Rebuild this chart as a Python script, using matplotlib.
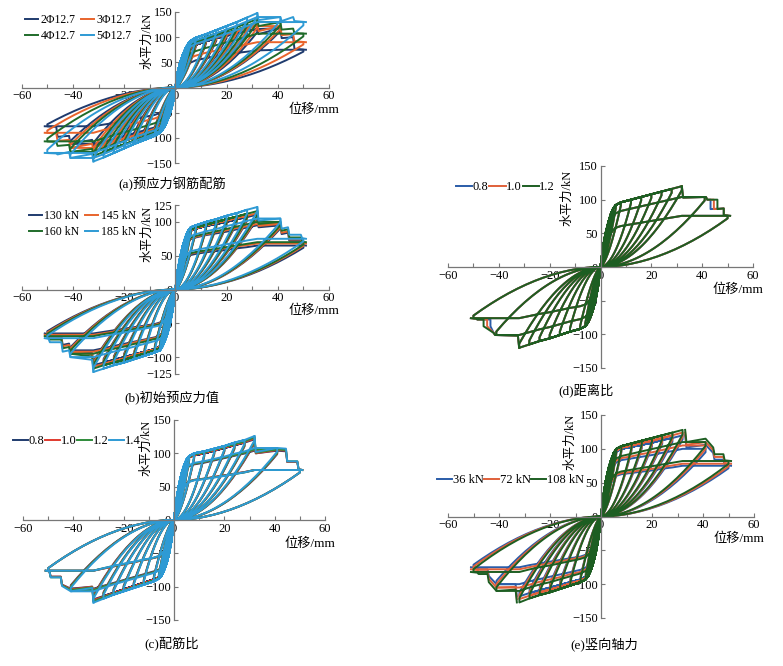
import numpy as np
import matplotlib.pyplot as plt
from matplotlib.lines import Line2D

plt.rcParams['font.family'] = ['Liberation Serif', 'Noto Sans CJK SC']

W, H = 783, 666

# loop amplitudes (mm), shared by all panels
amps = [1, 2, 3, 4, 5, 6, 8, 12, 16, 20, 24, 28, 32, 41, 50]

# (a) prestressing tendons
a_labels = ['2Φ12.7', '3Φ12.7', '4Φ12.7', '5Φ12.7']
a_pos = [
    [25, 42, 55, 65, 72, 78, 85, 92, 98, 103, 108, 112, 116, 118, 75],
    [27, 45, 58, 68, 76, 82, 88, 96, 102, 108, 114, 119, 125, 122, 90],
    [29, 48, 62, 72, 80, 86, 92, 100, 107, 114, 121, 128, 136, 130, 107],
    [32, 52, 66, 78, 87, 93, 99, 106, 114, 122, 130, 139, 148, 140, 130],
]
a_neg = [
    [-25, -40, -52, -62, -70, -76, -82, -88, -94, -100, -106, -111, -116, -112, -77],
    [-27, -44, -56, -66, -74, -80, -86, -93, -100, -106, -112, -118, -126, -120, -90],
    [-29, -47, -60, -70, -78, -84, -90, -98, -106, -113, -120, -128, -136, -128, -107],
    [-32, -50, -64, -76, -84, -90, -96, -104, -112, -121, -130, -139, -147, -140, -130],
]
a_tail_x = [[32, 32.5, 41, 41.5, 46, 46.5, 51]] * 4
a_tail_pos = [
    [116, 106, 118, 98, 100, 77, 75],
    [125, 112, 122, 104, 106, 92, 90],
    [136, 122, 130, 115, 117, 108, 107],
    [148, 134, 140, 132, 140, 132, 130],
]
a_tail_neg = [
    [-116, -104, -112, -96, -98, -78, -77],
    [-126, -112, -120, -104, -106, -91, -90],
    [-136, -122, -128, -114, -116, -108, -107],
    [-147, -132, -140, -128, -133, -131, -130],
]
a_yticks = [-150, -100, -50, 0, 50, 100, 150]

# (b) initial prestress
b_labels = ['130 kN', '145 kN', '160 kN', '185 kN']
b_pos = [
    [28, 47, 62, 73, 82, 87, 90, 94, 97, 100, 104, 107, 111, 95, 65],
    [28, 48, 63, 74, 83, 88, 91, 95, 99, 102, 106, 109, 113, 97, 68],
    [29, 49, 64, 75, 84, 89, 92, 96, 100, 104, 108, 112, 116, 100, 70],
    [30, 50, 66, 78, 87, 92, 95, 100, 104, 109, 113, 118, 122, 105, 75],
]
b_neg = [
    [-27, -46, -60, -71, -79, -84, -88, -92, -96, -100, -104, -108, -112, -90, -65],
    [-27, -47, -61, -72, -80, -85, -89, -93, -97, -102, -106, -110, -114, -92, -67],
    [-28, -48, -62, -73, -81, -87, -90, -95, -99, -104, -108, -112, -117, -95, -69],
    [-29, -49, -64, -75, -84, -90, -93, -98, -103, -108, -112, -117, -122, -100, -72],
]
b_tail_x = [[32, 32.5, 41, 41.5, 44, 44.5, 49, 49.5, 51]] * 4
b_tail_pos = [
    [111, 92, 95, 82, 84, 72, 72, 66, 65],
    [113, 94, 97, 84, 86, 74, 74, 69, 68],
    [116, 97, 100, 87, 89, 77, 77, 71, 70],
    [122, 102, 105, 90, 92, 81, 81, 76, 75],
]
b_tail_neg = [
    [-112, -94, -90, -80, -82, -70, -70, -66, -65],
    [-114, -96, -92, -82, -84, -72, -72, -68, -67],
    [-117, -99, -95, -85, -87, -74, -74, -70, -69],
    [-122, -104, -100, -90, -92, -78, -78, -73, -72],
]
b_yticks = [-125, -100, -50, 0, 50, 100, 125]

# (c) reinforcement ratio
c_labels = ['0.8', '1.0', '1.2', '1.4']
c_pos = [
    [30, 52, 68, 80, 89, 94, 97, 100, 104, 108, 112, 116, 121, 104, 75],
    [30, 52, 68, 80, 89, 94, 98, 101, 105, 109, 113, 117, 122, 105, 75],
    [31, 53, 69, 81, 90, 95, 99, 102, 106, 110, 114, 118, 124, 106, 75],
    [31, 53, 70, 82, 91, 96, 100, 103, 107, 111, 116, 120, 126, 108, 75],
]
c_neg = [
    [-30, -50, -64, -74, -82, -86, -89, -94, -99, -104, -109, -114, -119, -103, -76],
    [-30, -50, -64, -74, -82, -86, -90, -95, -100, -105, -110, -115, -120, -104, -76],
    [-31, -51, -65, -75, -83, -87, -91, -96, -101, -106, -111, -116, -122, -105, -76],
    [-31, -51, -66, -76, -84, -88, -92, -97, -102, -107, -112, -118, -124, -107, -76],
]
c_tail_x = [[32, 32.5, 41, 44.5, 45, 49, 49.5, 51]] * 4
c_tail_pos = [
    [121, 100, 104, 103, 87, 87, 76, 75],
    [122, 100, 105, 104, 87, 87, 76, 75],
    [124, 101, 106, 105, 88, 88, 76, 75],
    [126, 102, 108, 107, 88, 88, 76, 75],
]
c_tail_neg = [
    [-119, -100, -103, -97, -85, -85, -77, -76],
    [-120, -100, -104, -97, -85, -85, -77, -76],
    [-122, -101, -105, -98, -86, -86, -77, -76],
    [-124, -102, -107, -99, -86, -86, -77, -76],
]

# (d) distance ratio
d_labels = ['0.8', '1.0', '1.2']
d_pos = [[30, 50, 65, 78, 87, 92, 96, 100, 104, 108, 112, 116, 120, 104, 76]] * 3
d_neg = [[-30, -50, -64, -75, -83, -88, -92, -96, -101, -106, -110, -115, -120, -101, -76]] * 3
d_tail_x = [
    [32, 32.5, 41.5, 42, 43.3, 43.3, 48.5, 48.5, 51],
    [32, 32.5, 41.5, 42, 44.6, 44.6, 48.5, 48.5, 51],
    [32, 32.5, 41.5, 42, 46.0, 46.0, 48.5, 48.5, 51],
]
d_tail_pos = [[120, 103, 104, 100, 100, 86, 87, 77, 76]] * 3
d_tail_neg = [[-120, -102, -101, -98, -88, -78, -78, -77, -76]] * 3

# (e) vertical axial force
e_labels = ['36 kN', '72 kN', '108 kN']
e_pos = [
    [30, 52, 68, 80, 90, 96, 100, 103, 106, 109, 113, 116, 120, 100, 75],
    [31, 53, 70, 82, 92, 98, 102, 105, 109, 112, 116, 120, 124, 105, 78],
    [32, 55, 72, 84, 94, 100, 104, 108, 112, 116, 120, 124, 128, 110, 82],
]
e_neg = [
    [-30, -50, -65, -76, -84, -89, -93, -97, -101, -105, -109, -113, -118, -100, -75],
    [-31, -51, -66, -78, -86, -91, -95, -99, -104, -108, -112, -117, -122, -105, -78],
    [-32, -53, -68, -80, -88, -93, -97, -102, -107, -112, -116, -121, -127, -110, -82],
]
e_tail_x = [[33, 33.5, 41, 44, 44.5, 48, 48.5, 51]] * 3
e_tail_pos = [
    [120, 102, 106, 94, 84, 84, 76, 75],
    [124, 106, 110, 98, 88, 88, 79, 78],
    [128, 110, 115, 102, 92, 92, 83, 82],
]
e_tail_neg = [
    [-118, -100, -100, -88, -78, -78, -76, -75],
    [-122, -104, -105, -92, -81, -81, -79, -78],
    [-127, -108, -110, -97, -85, -85, -83, -82],
]

col4 = ['#1f3b6e', '#e8642c', '#1f6b2a', '#2e9ad4']
col_c = ['#1f3b6e', '#e03a2e', '#2e8b3a', '#2e9ad4']
col3 = ['#2a5ca8', '#e0603a', '#1d5e22']


def half_loop(k, peaks, sgn):
    # reloading branch follows the envelope of earlier peaks, unloading sags back to 0
    d, f = amps[k], peaks[k]
    imax = int(np.argmax(np.abs(peaks)))
    if k <= imax:
        ux = [0] + amps[:k + 1]
        uy = [0] + peaks[:k + 1]
    else:
        r = f / peaks[imax]
        ux = [0] + amps[:imax + 1] + [d]
        uy = [0] + [p * r for p in peaks[:imax + 1]] + [f]
    u = np.linspace(1, 0, 30)
    p = 1.5 if d <= 8 else 1.9
    lx = d * u
    ly = 0.95 * f * u ** p
    x = np.concatenate([ux, lx])
    y = np.concatenate([uy, ly])
    return sgn * x, y


def make_axes(x0, x1, ytop, ybot, yticks):
    ax = fig.add_axes([x0 / W, 1 - ybot / H, (x1 - x0) / W, (ybot - ytop) / H])
    ax.set_xlim(-60, 60)
    ax.set_ylim(yticks[0], yticks[-1])
    for s in ['top', 'right']:
        ax.spines[s].set_visible(False)
    for s in ['left', 'bottom']:
        ax.spines[s].set_position(('data', 0))
        ax.spines[s].set_color('#777777')
        ax.spines[s].set_linewidth(0.9)
        ax.spines[s].set_zorder(5)
    ax.set_xticks(np.arange(-60, 61, 20))
    ax.set_xticks(np.arange(-60, 61, 10), minor=True)
    ax.set_yticks(yticks)
    ax.tick_params(direction='in', length=3, width=0.8, color='#777777',
                   labelsize=9, pad=2)
    ax.tick_params(which='minor', direction='in', length=3, width=0.8, color='#777777')
    ax.set_xticklabels([str(v).replace('-', '\u2212') for v in range(-60, 61, 20)])
    ax.set_yticklabels([str(v).replace('-', '\u2212') for v in yticks])
    for t in ax.get_yticklabels():
        t.set_bbox(dict(fc='white', ec='none', pad=0.3))
        t.set_zorder(6)
    ax.patch.set_alpha(0)
    return ax


def draw(ax, pos, neg, tx, tpos, tneg, colors):
    for i in range(len(pos)):
        xs, ys = [], []
        for k in range(len(amps)):
            for peaks, sgn in ((pos[i], 1), (neg[i], -1)):
                lx, ly = half_loop(k, peaks, sgn)
                xs.append(lx)
                ys.append(ly)
        ax.plot(np.concatenate(xs), np.concatenate(ys), color=colors[i], lw=1.4)
        ax.plot(tx[i], tpos[i], color=colors[i], lw=1.4)
        ax.plot([-v for v in tx[i]], tneg[i], color=colors[i], lw=1.4)


def labels(ax, yl_x, yl_y, xl_y):
    ax.text(yl_x, yl_y, '水平力/kN', rotation=90, ha='center', va='top', fontsize=9)
    ax.text(54, xl_y, '位移/mm', ha='center', va='center', fontsize=9.5)


def legend(colors, names, x, y, ncol, hl, hp, cs, fs):
    handles = [Line2D([], [], color=c, lw=1.4) for c in colors]
    if ncol == 2:
        handles = [handles[0], handles[2], handles[1], handles[3]]
        names = [names[0], names[2], names[1], names[3]]
    fig.legend(handles, names, loc='center left', bbox_to_anchor=(x / W, 1 - y / H),
               ncol=ncol, frameon=False, fontsize=fs, handlelength=hl,
               handletextpad=hp, columnspacing=cs, labelspacing=0.3,
               borderpad=0, borderaxespad=0)


fig = plt.figure(figsize=(W / 100, H / 100), dpi=100)

ax = make_axes(21.7, 329, 12, 163, a_yticks)
draw(ax, a_pos, a_neg, a_tail_x, a_tail_pos, a_tail_neg, col4)
labels(ax, -11, 148, -44)
legend(col4, a_labels, 25, 28, 2, 1.1, 0.2, 0.5, 8.5)
fig.text(172 / W, 1 - 184 / H, '(a)预应力钢筋配筋', ha='center', va='center', fontsize=9.5)

ax = make_axes(21.7, 329, 205, 374, b_yticks)
draw(ax, b_pos, b_neg, b_tail_x, b_tail_pos, b_tail_neg, col4)
labels(ax, -11, 124, -32)
legend(col4, b_labels, 29, 224, 2, 1.1, 0.2, 0.5, 8.5)
fig.text(172 / W, 1 - 397 / H, '(b)初始预应力值', ha='center', va='center', fontsize=9.5)

ax = make_axes(23, 325, 420, 620, a_yticks)
draw(ax, c_pos, c_neg, c_tail_x, c_tail_pos, c_tail_neg, col_c)
labels(ax, -11, 150, -36)
legend(col_c, c_labels, 13, 441, 4, 1.2, 0.05, 0.05, 9)
fig.text(172 / W, 1 - 643 / H, '(c)配筋比', ha='center', va='center', fontsize=9.5)

ax = make_axes(448, 753, 166, 368, a_yticks)
draw(ax, d_pos, d_neg, d_tail_x, d_tail_pos, d_tail_neg, col3)
labels(ax, -13, 144, -33)
legend(col3, d_labels, 456, 187, 3, 1.3, 0.05, 0.05, 9)
fig.text(586 / W, 1 - 390 / H, '(d)距离比', ha='center', va='center', fontsize=9.5)

ax = make_axes(448, 754, 415, 618, a_yticks)
draw(ax, e_pos, e_neg, e_tail_x, e_tail_pos, e_tail_neg, col3)
labels(ax, -12, 152, -33)
legend(col3, e_labels, 437, 480, 3, 1.2, 0.05, 0.05, 9)
fig.text(604 / W, 1 - 645 / H, '(e)竖向轴力', ha='center', va='center', fontsize=9.5)

fig.savefig('out.png', dpi=100)
